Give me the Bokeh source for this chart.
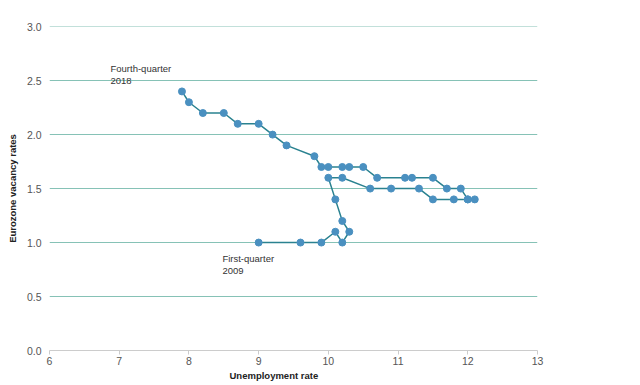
from bokeh.plotting import figure
from bokeh.models import Range1d, Label, FixedTicker, Title, CustomJSTickFormatter
from bokeh.embed import file_html
from bokeh.resources import INLINE

# Unemployment rate (x) and Eurozone vacancy rate (y), 2009Q1 -> 2018Q4
unemployment = [9.0, 9.6, 9.9, 10.1, 10.2, 10.3, 10.2, 10.1, 10.0, 10.2,
                10.6, 10.9, 11.3, 11.5, 11.8, 12.0, 12.1, 12.0, 11.9, 11.7,
                11.5, 11.2, 11.1, 10.7, 10.5, 10.3, 10.2, 10.0, 9.9, 9.8,
                9.4, 9.2, 9.0, 8.7, 8.5, 8.2, 8.0, 7.9]
vacancy = [1.0, 1.0, 1.0, 1.1, 1.0, 1.1, 1.2, 1.4, 1.6, 1.6,
           1.5, 1.5, 1.5, 1.4, 1.4, 1.4, 1.4, 1.4, 1.5, 1.5,
           1.6, 1.6, 1.6, 1.6, 1.7, 1.7, 1.7, 1.7, 1.7, 1.8,
           1.9, 2.0, 2.1, 2.1, 2.2, 2.2, 2.3, 2.4]
x_ticks = [6, 7, 8, 9, 10, 11, 12, 13]
y_ticks = [0.0, 0.5, 1.0, 1.5, 2.0, 2.5, 3.0]
labels = ["Fourth-quarter\n2018", "First-quarter\n2009"]

FONT = "Liberation Sans"

p = figure(frame_width=488, frame_height=324, output_backend="svg",
           toolbar_location=None, x_range=Range1d(6, 13), y_range=Range1d(0, 3.0015),
           min_border_left=49, min_border_top=26, min_border_right=87,
           min_border_bottom=35)
p.outline_line_color = None
p.background_fill_color = "white"

p.xgrid.grid_line_color = None
p.ygrid.grid_line_color = "#86c2b6"
p.ygrid.grid_line_width = 1
p.yaxis.ticker = FixedTicker(ticks=y_ticks)
p.xaxis.ticker = FixedTicker(ticks=x_ticks)
p.yaxis.formatter = CustomJSTickFormatter(code="return tick.toFixed(1);")

p.yaxis.axis_line_color = None
p.yaxis.major_tick_line_color = None
p.yaxis.major_tick_out = 0
p.yaxis.major_tick_in = 0
p.yaxis.minor_tick_line_color = None
p.yaxis.minor_tick_out = 0
p.yaxis.major_label_standoff = 8
p.yaxis.axis_label = "Eurozone vacancy rates"
p.yaxis.axis_label_text_font = FONT
p.yaxis.axis_label_text_font_size = "9.5px"
p.yaxis.axis_label_text_font_style = "bold"
p.yaxis.axis_label_text_color = "#222222"
p.yaxis.axis_label_standoff = 6
for ax in (p.xaxis, p.yaxis):
    ax.major_label_text_font = FONT
    ax.major_label_text_font_size = "10.5px"
    ax.major_label_text_color = "#555555"
p.xaxis.axis_line_color = "#cccccc"
p.xaxis.major_tick_line_color = "#cccccc"
p.xaxis.major_tick_in = 0
p.xaxis.major_tick_out = 4
p.xaxis.minor_tick_line_color = None
p.xaxis.minor_tick_out = 0
p.xaxis.major_label_standoff = 2

p.add_layout(Title(text="Unemployment rate", align="left", offset=180,
                   text_font=FONT, text_font_size="9.5px", text_font_style="bold",
                   text_color="#222222", standoff=0), "below")

p.line(unemployment, vacancy, line_color="#2a8290", line_width=1.5)
p.scatter(unemployment, vacancy, size=7, fill_color="#4a90c0",
          line_color="#4a90c0")

ann = [(6.875, 2.667, labels[0]), (8.48, 0.907, labels[1])]
for xx, yy, t in ann:
    p.add_layout(Label(x=xx, y=yy, text=t, text_font=FONT,
                       text_font_size="9.5px", text_color="#333333",
                       text_baseline="top", text_align="left",
                       text_line_height=1.15))

open("out.html", "w").write(file_html(p, INLINE))
